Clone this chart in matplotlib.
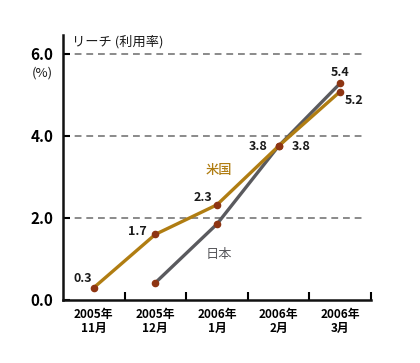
import matplotlib.pyplot as plt

plt.rcParams['font.family'] = ['Noto Sans CJK JP', 'DejaVu Sans']

# data
months = ['2005年\n11月', '2005年\n12月', '2006年\n1月', '2006年\n2月', '2006年\n3月']
us_x = [0, 1, 2, 3, 4]
us_vals = [0.3, 1.6, 2.32, 3.75, 5.08]
us_labels = ['0.3', '1.7', '2.3', '3.8', '5.2']
jp_x = [1, 2, 3, 4]
jp_vals = [0.42, 1.85, 3.75, 5.28]
jp_labels = [None, None, '3.8', '5.4']

us_color = '#b07d12'
jp_color = '#5a5a5e'
pt_color = '#8e3512'

fig = plt.figure(figsize=(4.2, 3.63), dpi=100)
ax = fig.add_axes([0.15, 0.1736, 0.733, 0.730])

for y in [2, 4, 6]:
    ax.axhline(y, color='#8a8a8a', lw=1.4, ls=(0, (3.5, 2.5)), xmax=0.985, zorder=1)

ax.plot(jp_x, jp_vals, color=jp_color, lw=2.4, zorder=3)
ax.plot(us_x, us_vals, color=us_color, lw=2.4, zorder=4)
ax.scatter(jp_x, jp_vals, s=20, color=pt_color, zorder=5)
ax.scatter(us_x, us_vals, s=20, color=pt_color, zorder=5)

# label offsets (points)
us_off = [(-8, 6.5), (-13, 2), (-10, 5), (-14.5, 0), (10, -6.5)]
jp_off = [None, None, (16, 0), (0, 8)]
for x, v, lab, off in zip(us_x, us_vals, us_labels, us_off):
    ax.annotate(lab, (x, v), xytext=off, textcoords='offset points',
                ha='center', va='center', fontsize=9, fontweight='bold', color='#1a1a1a')
for x, v, lab, off in zip(jp_x, jp_vals, jp_labels, jp_off):
    if lab:
        ax.annotate(lab, (x, v), xytext=off, textcoords='offset points',
                    ha='center', va='center', fontsize=9, fontweight='bold', color='#1a1a1a')

ax.text(2.03, 3.17, '米国', color=us_color, fontsize=9.5, fontweight='medium', ha='center', va='center')
ax.text(2.03, 1.12, '日本', color=jp_color, fontsize=9.5, ha='center', va='center')

ax.set_xlim(-0.5, 4.5)
ax.set_ylim(0, 6.46)
for s in ['top', 'right']:
    ax.spines[s].set_visible(False)
for s in ['left', 'bottom']:
    ax.spines[s].set_linewidth(1.8)
    ax.spines[s].set_color('#111111')

ax.set_yticks([0, 2, 4, 6])
ax.set_yticklabels(['0.0', '2.0', '4.0', '6.0'], fontsize=11, fontweight='bold')
ax.tick_params(axis='y', direction='in', length=5, width=1.5, pad=7)

ax.set_xticks([0.5, 1.5, 2.5, 3.5, 4.5])
ax.set_xticklabels([])
ax.set_xticks(us_x, minor=True)
ax.set_xticklabels(months, minor=True, fontsize=8.5, fontweight='bold', linespacing=1.1)
ax.tick_params(axis='x', which='major', direction='in', length=6, width=1.5)
ax.tick_params(axis='x', which='minor', length=0, pad=6)

fig.text(72 / 420, 1 - 42 / 363, 'リーチ (利用率)', fontsize=9.5, va='center', ha='left', color='#1a1a1a')
fig.text(53 / 420, 1 - 73 / 363, '(%)', fontsize=9.5, va='center', ha='right', color='#1a1a1a')

fig.savefig('out.png', dpi=100)
